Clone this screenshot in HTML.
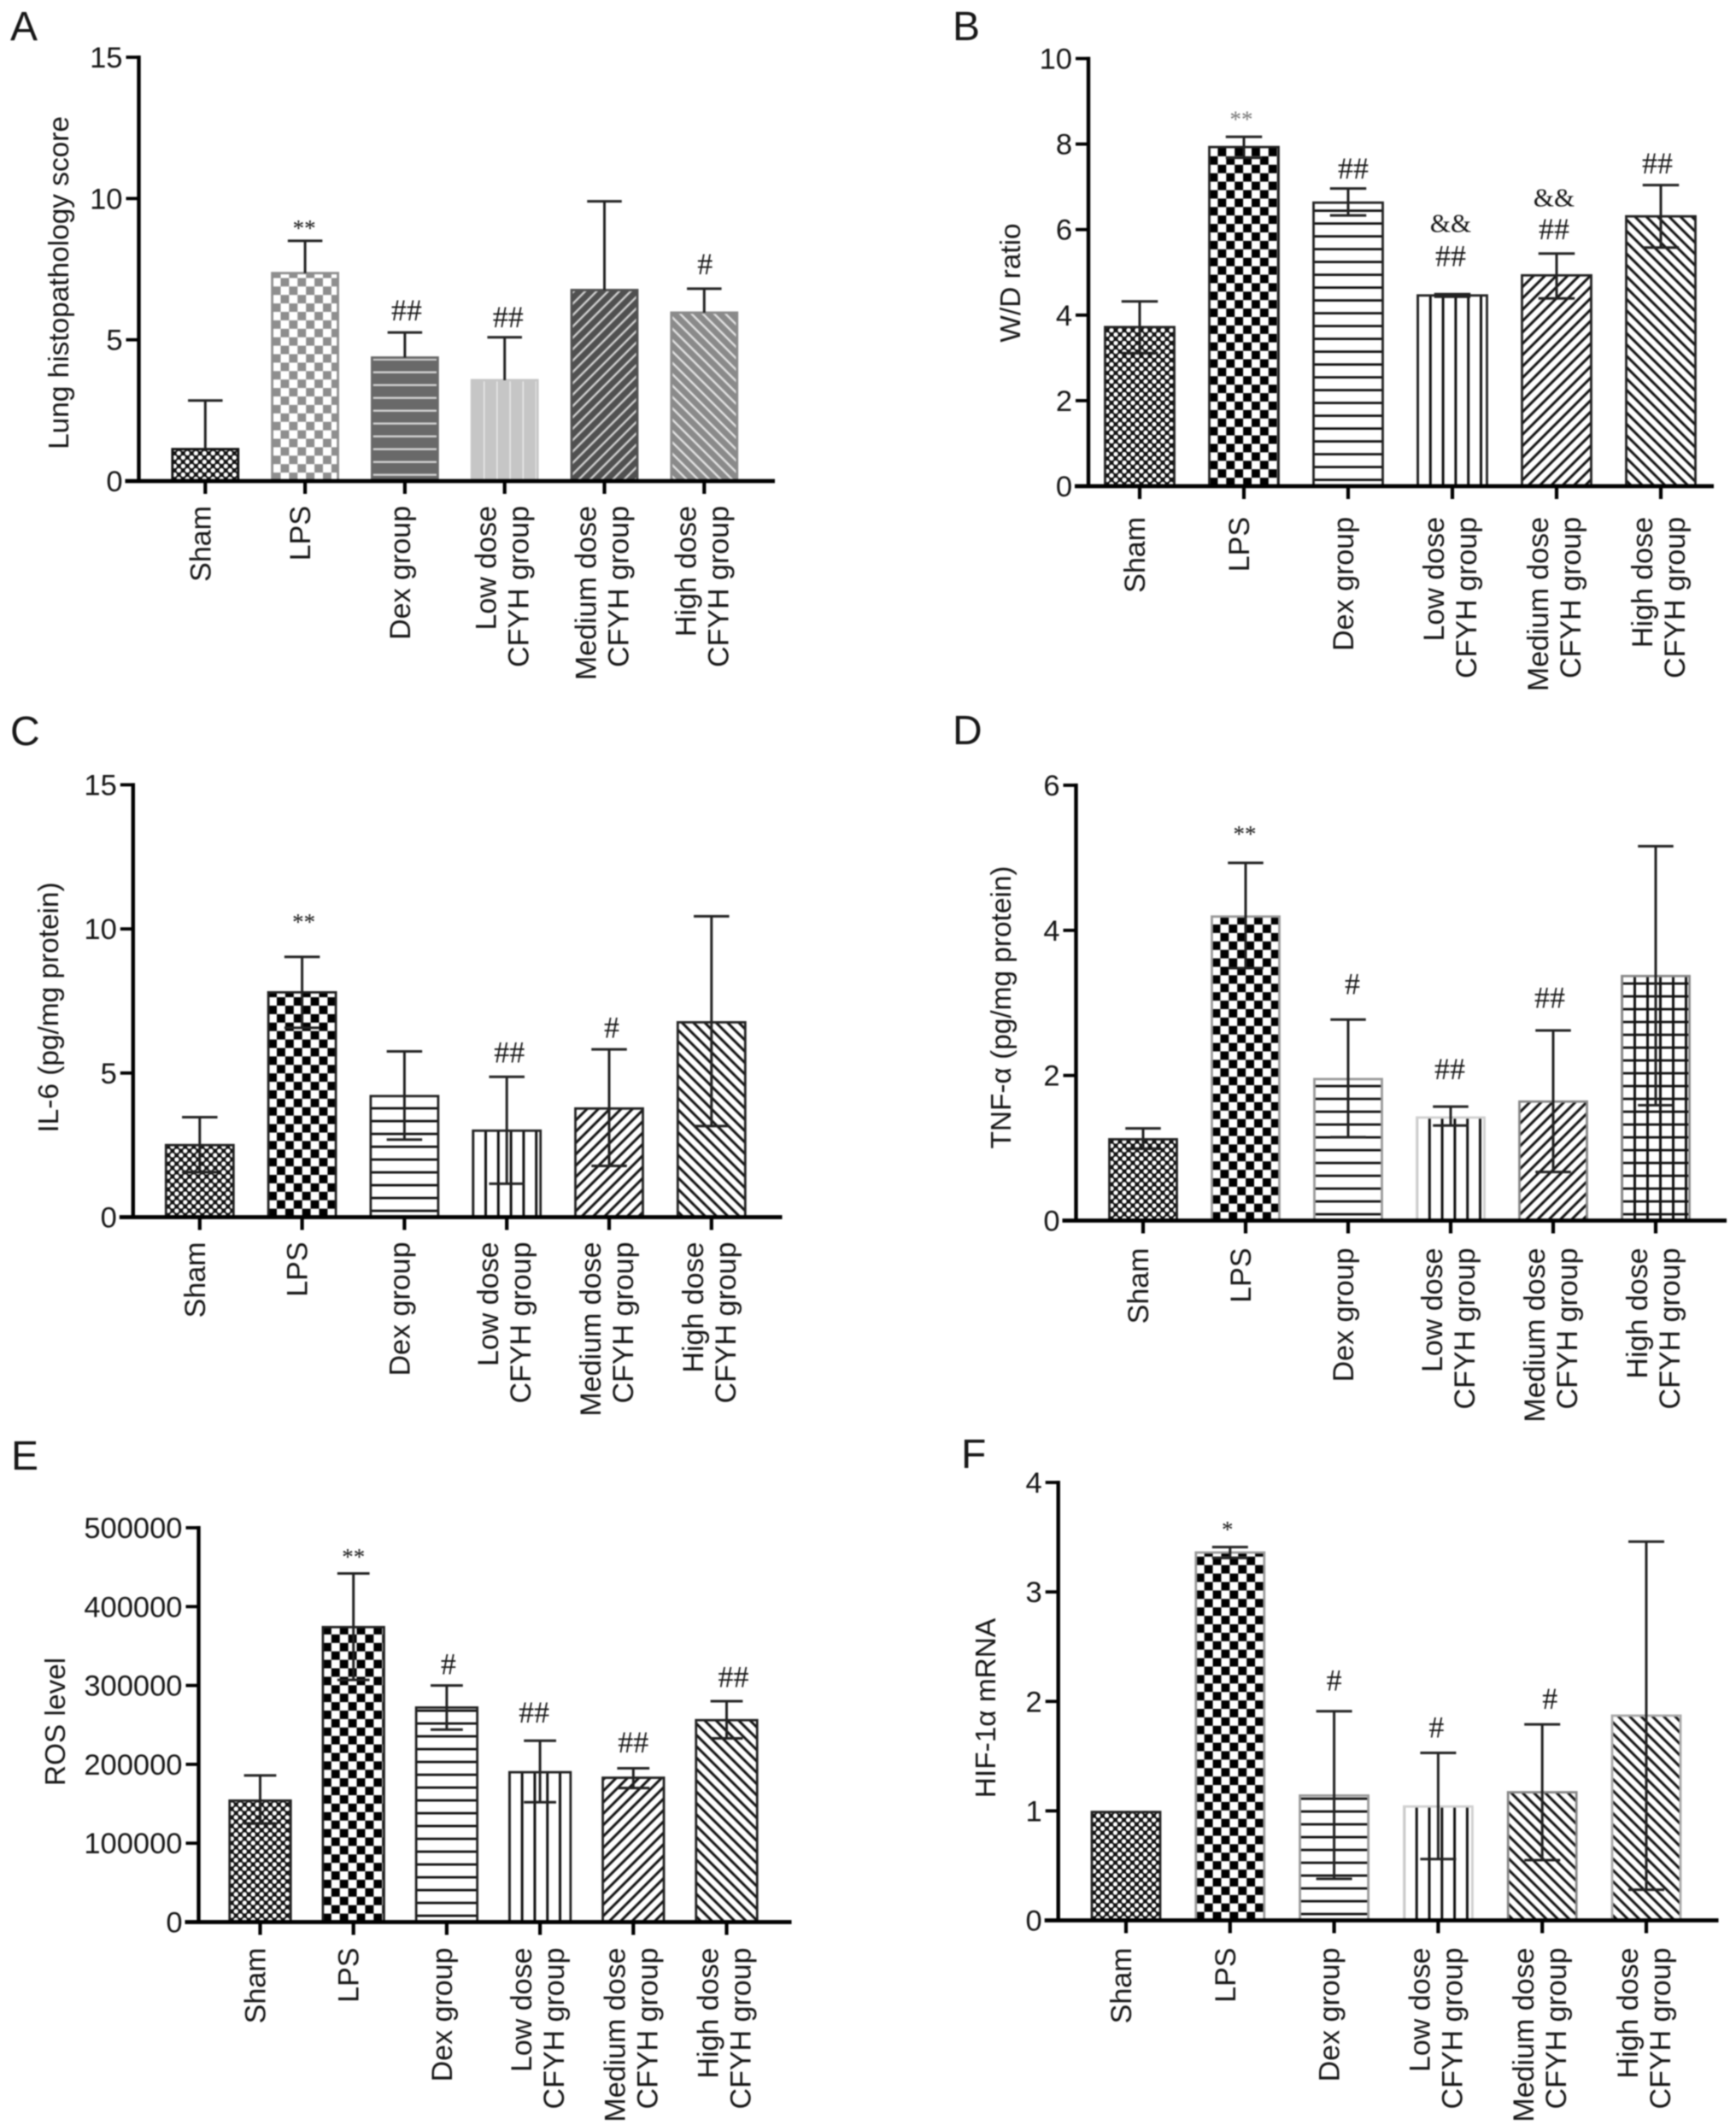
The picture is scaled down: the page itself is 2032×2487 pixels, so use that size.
<!DOCTYPE html>
<html lang="en">
<head>
<meta charset="utf-8">
<title>Lung injury bar chart panels A-F</title>
<style>
html,body{margin:0;padding:0;background:#fff;}
body{width:2032px;height:2487px;overflow:hidden;}
#figure{display:block;width:2032px;height:2487px;filter:blur(0.7px);}
text{font-family:"Liberation Sans",sans-serif;fill:#161616;}
.sig{font-family:"Liberation Serif",serif;}
</style>
</head>
<body>
<svg id="figure" xmlns="http://www.w3.org/2000/svg" width="2032" height="2487" viewBox="0 0 2032 2487">
<defs>
  <pattern id="dots" width="10" height="10" patternUnits="userSpaceOnUse"><rect width="10" height="10" fill="#111"/><circle cx="2.5" cy="2.5" r="2.7" fill="#fff"/><circle cx="7.5" cy="7.5" r="2.7" fill="#fff"/></pattern>
  <pattern id="check" width="19.8" height="19.8" patternUnits="userSpaceOnUse"><rect width="19.8" height="19.8" fill="#fff"/><rect x="9.9" width="9.9" height="9.9" fill="#000"/><rect y="9.9" width="9.9" height="9.9" fill="#000"/></pattern>
  <pattern id="hlines" width="15" height="15" patternUnits="userSpaceOnUse"><rect width="15" height="15" fill="#fff"/><rect y="6.2" width="15" height="2.8" fill="#111"/></pattern>
  <pattern id="vlines" width="14.8" height="15" patternUnits="userSpaceOnUse"><rect width="14.8" height="15" fill="#fff"/><rect x="0" width="1.5" height="15" fill="#111"/><rect x="13.3" width="1.5" height="15" fill="#111"/></pattern>
  <pattern id="diagup" width="9.4" height="9.4" patternUnits="userSpaceOnUse" patternTransform="rotate(-45)"><rect width="9.4" height="9.4" fill="#fff"/><rect y="3.2" width="9.4" height="3" fill="#111"/></pattern>
  <pattern id="diagdown" width="9.4" height="9.4" patternUnits="userSpaceOnUse" patternTransform="rotate(45)"><rect width="9.4" height="9.4" fill="#fff"/><rect y="3.2" width="9.4" height="3" fill="#111"/></pattern>
  <pattern id="grid" width="15" height="15" patternUnits="userSpaceOnUse"><rect width="15" height="15" fill="#fff"/><rect x="0" width="1.5" height="15" fill="#111"/><rect x="13.5" width="1.5" height="15" fill="#111"/><rect y="6.2" width="15" height="2.8" fill="#111"/></pattern>
  <pattern id="gray-check" width="19.8" height="19.8" patternUnits="userSpaceOnUse"><rect width="19.8" height="19.8" fill="#fff"/><rect x="9.9" width="9.9" height="9.9" fill="#8e8e8e"/><rect y="9.9" width="9.9" height="9.9" fill="#8e8e8e"/></pattern>
  <pattern id="gray-hlines" width="15" height="15" patternUnits="userSpaceOnUse"><rect width="15" height="15" fill="#696969"/><rect y="6.5" width="15" height="2.4" fill="#d2d2d2"/></pattern>
  <pattern id="gray-vlines" width="15.2" height="15" patternUnits="userSpaceOnUse"><rect width="15.2" height="15" fill="#c6c6c6"/><rect x="13.8" width="2.6" height="15" fill="#ececec"/></pattern>
  <pattern id="gray-diagup" width="9.4" height="9.4" patternUnits="userSpaceOnUse" patternTransform="rotate(-45)"><rect width="9.4" height="9.4" fill="#505050"/><rect y="3.5" width="9.4" height="2.4" fill="#cfcfcf"/></pattern>
  <pattern id="gray-diagdown" width="9.4" height="9.4" patternUnits="userSpaceOnUse" patternTransform="rotate(45)"><rect width="9.4" height="9.4" fill="#8a8a8a"/><rect y="3.5" width="9.4" height="2.4" fill="#e2e2e2"/></pattern>
</defs>
<rect width="2032" height="2487" fill="#fff"/>
</svg>
<script>
// Shared categories
const categories = ['Sham', 'LPS', 'Dex group', 'Low dose|CFYH group', 'Medium dose|CFYH group', 'High dose|CFYH group'];

// Panel A - Lung histopathology score
const aTicks = [0, 5, 10, 15];
const aValues = [1.13, 7.36, 4.37, 3.57, 6.76, 5.96];
const aErrUp = [2.85, 8.5, 5.26, 5.09, 9.9, 6.81];
const aErrDown = [null, null, null, null, null, null];
const aSigs = [[], ['**'], ['##'], ['##'], [], ['#']];
const aSigAt = [[], [9.05], [5.68], [5.45], [], [7.32]];

// Panel B - W/D ratio
const bTicks = [0, 2, 4, 6, 8, 10];
const bValues = [3.72, 7.93, 6.63, 4.46, 4.93, 6.31];
const bErrUp = [4.32, 8.17, 6.96, 4.49, 5.44, 7.04];
const bErrDown = [3.11, 7.68, 6.33, 4.43, 4.39, 5.58];
const bSigs = [[], ['**'], ['##'], ['##', '&&'], ['##', '&&'], ['##']];
const bSigAt = [[], [8.65], [7.19], [5.14, 5.94], [5.77, 6.54], [7.31]];

// Panel C - IL-6
const cTicks = [0, 5, 10, 15];
const cValues = [2.5, 7.8, 4.2, 3.0, 3.77, 6.76];
const cErrUp = [3.47, 9.03, 5.75, 4.87, 5.82, 10.44];
const cErrDown = [1.56, 6.57, 2.69, 1.16, 1.78, 3.16];
const cSigs = [[], ['**'], [], ['##'], ['#'], []];
const cSigAt = [[], [10.35], [], [5.36], [6.23], []];

// Panel D - TNF-alpha
const dTicks = [0, 2, 4, 6];
const dValues = [1.12, 4.19, 1.95, 1.42, 1.64, 3.37];
const dErrUp = [1.27, 4.93, 2.77, 1.57, 2.62, 5.16];
const dErrDown = [0.99, 3.48, 1.15, 1.31, 0.67, 1.59];
const dSigs = [[], ['**'], ['#'], ['##'], ['##'], []];
const dSigAt = [[], [5.37], [3.12], [1.95], [2.93], []];

// Panel E - ROS level
const eTicks = [0, 100000, 200000, 300000, 400000, 500000];
const eValues = [154000, 374000, 272000, 190000, 183000, 256000];
const eErrUp = [186000, 442000, 300000, 230000, 195000, 280000];
const eErrDown = [125000, 307000, 244000, 152000, 170000, 233000];
const eSigs = [[], ['**'], ['#'], ['##'], ['##'], ['##']];
const eSigAt = [[], [467000], [314000], [253000], [215000], [298000]];

// Panel F - HIF-1alpha mRNA
const fTicks = [0, 1, 2, 3, 4];
const fValues = [0.99, 3.36, 1.14, 1.04, 1.17, 1.87];
const fErrUp = [null, 3.41, 1.91, 1.53, 1.79, 3.46];
const fErrDown = [null, 3.31, 0.38, 0.56, 0.55, 0.28];
const fSigs = [[], ['*'], ['#'], ['#'], ['#'], []];
const fSigAt = [[], [3.60], [2.10], [1.67], [1.93], []];

// Panel layouts (geometry and styling only)
const panels = [
  {id: 'a', letter: 'A', letterX: 12, letterY: 47, axisX: 162.5, xEnd: 907, yTop: 67, yBase: 563, yMax: 15,
   x0: 240.3, step: 116.8, barW: 77, labelGap: 29, title: 'Lung histopathology score', titleX: 80, titleY: 331,
   ticks: aTicks, values: aValues, up: aErrUp, down: aErrDown, sigs: aSigs, sigAt: aSigAt, sigShift: [0, -1, 2, 4, 0, 1],
   fills: ['dots', 'gray-check', 'gray-hlines', 'gray-vlines', 'gray-diagup', 'gray-diagdown'],
   edges: ['#111', '#8e8e8e', '#696969', '#c6c6c6', '#505050', '#8a8a8a']},
  {id: 'b', letter: 'B', letterX: 1115, letterY: 47, axisX: 1274, xEnd: 2006, yTop: 68.5, yBase: 569, yMax: 10,
   x0: 1334, step: 122, barW: 81, labelGap: 36, title: 'W/D ratio', titleX: 1194, titleY: 331,
   ticks: bTicks, values: bValues, up: bErrUp, down: bErrDown, sigs: bSigs, sigAt: bSigAt, sigShift: [0, -3, 6, -2, -3, -4],
   fills: ['dots', 'check', 'hlines', 'vlines', 'diagup', 'diagdown'],
   edges: ['#222', '#222', '#222', '#222', '#222', '#222']},
  {id: 'c', letter: 'C', letterX: 12, letterY: 872, axisX: 155.8, xEnd: 915.5, yTop: 918.5, yBase: 1424.5, yMax: 15,
   x0: 233.8, step: 119.8, barW: 79, labelGap: 29, title: 'IL-6 (pg/mg protein)', titleX: 68, titleY: 1179,
   ticks: cTicks, values: cValues, up: cErrUp, down: cErrDown, sigs: cSigs, sigAt: cSigAt, sigShift: [0, 2, 0, 3, 3, 0],
   fills: ['dots', 'check', 'hlines', 'vlines', 'diagup', 'diagdown'],
   edges: ['#222', '#222', '#222', '#222', '#222', '#222']},
  {id: 'd', letter: 'D', letterX: 1115, letterY: 871, axisX: 1259.5, xEnd: 2021, yTop: 919, yBase: 1428.5, yMax: 6,
   x0: 1338, step: 120, barW: 79, labelGap: 32, title: 'TNF-\u03B1 (pg/mg protein)', titleX: 1183, titleY: 1179,
   ticks: dTicks, values: dValues, up: dErrUp, down: dErrDown, sigs: dSigs, sigAt: dSigAt, sigShift: [0, -1, 5, -1, -4, 0],
   fills: ['dots', 'check', 'hlines', 'vlines', 'diagup', 'grid'],
   edges: ['#222', '#999', '#999', '#d0d0d0', '#888', '#888']},
  {id: 'e', letter: 'E', letterX: 13, letterY: 1720, axisX: 232.5, xEnd: 926.5, yTop: 1788, yBase: 2249.5, yMax: 500000,
   x0: 304.5, step: 109.2, barW: 71.5, labelGap: 30, title: 'ROS level', titleX: 76, titleY: 2015,
   ticks: eTicks, values: eValues, up: eErrUp, down: eErrDown, sigs: eSigs, sigAt: eSigAt, sigShift: [0, 0, 2, -7, 0, 8],
   fills: ['dots', 'check', 'hlines', 'vlines', 'diagup', 'diagdown'],
   edges: ['#222', '#222', '#222', '#222', '#222', '#222']},
  {id: 'f', letter: 'F', letterX: 1125, letterY: 1718, axisX: 1238.7, xEnd: 2011.5, yTop: 1735, yBase: 2247.5, yMax: 4,
   x0: 1318, step: 121.8, barW: 80, labelGap: 32, title: 'HIF-1\u03B1 mRNA', titleX: 1165, titleY: 1999,
   ticks: fTicks, values: fValues, up: fErrUp, down: fErrDown, sigs: fSigs, sigAt: fSigAt, sigShift: [0, -3, 0, -2, 9, 0],
   fills: ['dots', 'check', 'hlines', 'vlines', 'diagdown', 'diagdown'],
   edges: ['#222', '#999', '#999', '#d0d0d0', '#888', '#aaa']}
];

const SVG_NS = 'http://www.w3.org/2000/svg';
const svg = document.getElementById('figure');

function make(parent, tag, attrs, content) {
  const node = document.createElementNS(SVG_NS, tag);
  for (const key in attrs) node.setAttribute(key, attrs[key]);
  if (content !== undefined) node.textContent = content;
  parent.appendChild(node);
  return node;
}

function slug(text) {
  return text.toLowerCase().replace(/[^a-z0-9]+/g, '-').replace(/^-|-$/g, '');
}

panels.forEach(function (p) {
  const yScale = function (v) { return p.yBase - (v / p.yMax) * (p.yBase - p.yTop); };
  const xScale = function (i) { return p.x0 + i * p.step; };
  const capW = p.barW * 0.5;

  const panel = make(svg, 'g', {});
  
  

  const letter = make(panel, 'text', {x: p.letterX, y: p.letterY, 'font-size': 48}, p.letter);
  
  

  // Bars
  p.values.forEach(function (v, i) {
    const left = xScale(i) - p.barW / 2;
    const h = p.yBase - yScale(v);
    const holder = make(panel, 'g', {transform: 'translate(' + left + ',' + p.yBase + ')'});
    
    
    const bar = make(holder, 'rect', {x: 0, y: -h, width: p.barW, height: h, fill: 'url(#' + p.fills[i] + ')', stroke: p.edges[i], 'stroke-width': 2.8});
    
    
  });

  // Error bars
  p.values.forEach(function (v, i) {
    if (p.up[i] === null) return;
    const cx = xScale(i);
    const low = p.down[i] === null ? v : p.down[i];
    const err = make(panel, 'g', {stroke: '#222', 'stroke-width': 3, fill: 'none'});
    
    
    make(err, 'line', {x1: cx, x2: cx, y1: yScale(p.up[i]), y2: yScale(low)});
    make(err, 'line', {x1: cx - capW / 2 - 1, x2: cx + capW / 2 + 1, y1: yScale(p.up[i]), y2: yScale(p.up[i])});
    if (p.down[i] !== null) {
      make(err, 'line', {x1: cx - capW / 2 - 1, x2: cx + capW / 2 + 1, y1: yScale(p.down[i]), y2: yScale(p.down[i])});
    }
  });

  // Axes
  const yAxis = make(panel, 'line', {x1: p.axisX, x2: p.axisX, y1: p.yTop - 2, y2: p.yBase, stroke: '#000', 'stroke-width': 4.4});
  
  
  const xAxis = make(panel, 'line', {x1: p.axisX - 16, x2: p.xEnd, y1: p.yBase, y2: p.yBase, stroke: '#000', 'stroke-width': 4.8});
  
  

  // Y ticks
  p.ticks.forEach(function (t) {
    const y = yScale(t);
    const tick = make(panel, 'line', {x1: p.axisX - 15, x2: p.axisX, y1: y, y2: y, stroke: '#000', 'stroke-width': 3.8});
    
    
    const label = make(panel, 'text', {x: p.axisX - 19, y: y + 12, 'font-size': 34.5, 'text-anchor': 'end'}, String(t));
    
    
  });

  // X ticks and rotated category labels
  categories.forEach(function (cat, i) {
    const cx = xScale(i);
    const tick = make(panel, 'line', {x1: cx, x2: cx, y1: p.yBase, y2: p.yBase + 15, stroke: '#000', 'stroke-width': 4.2});
    
    
    const lines = cat.split('|');
    const shifts = lines.length === 1 ? [6] : [-10, 28];
    lines.forEach(function (line, j) {
      const lx = cx + shifts[j];
      const ly = p.yBase + p.labelGap;
      const label = make(panel, 'text', {x: 0, y: 0, 'font-size': 34, 'text-anchor': 'end', transform: 'translate(' + lx + ',' + ly + ') rotate(-90)'}, line);
      
      
    });
  });

  // Y axis title
  const title = make(panel, 'text', {x: 0, y: 0, 'font-size': 33.4, 'text-anchor': 'middle', transform: 'translate(' + p.titleX + ',' + p.titleY + ') rotate(-90)'}, p.title);
  
  

  // Significance marks
  p.sigs.forEach(function (marks, i) {
    marks.forEach(function (mark, j) {
      const y = yScale(p.sigAt[i][j]);
      const isStar = mark.charAt(0) === '*';
      const size = isStar ? 27 : (mark.charAt(0) === '&' ? 31 : 36);
      const base = isStar ? y + 12.5 : y;
      const sig = make(panel, 'text', {'class': 'sig', x: xScale(i) + p.sigShift[i], y: base, 'font-size': size, 'text-anchor': 'middle'}, mark);
      if (p.id === 'b' && isStar) sig.style.fill = '#777';
      
      
    });
  });
});
</script>
</body>
</html>
